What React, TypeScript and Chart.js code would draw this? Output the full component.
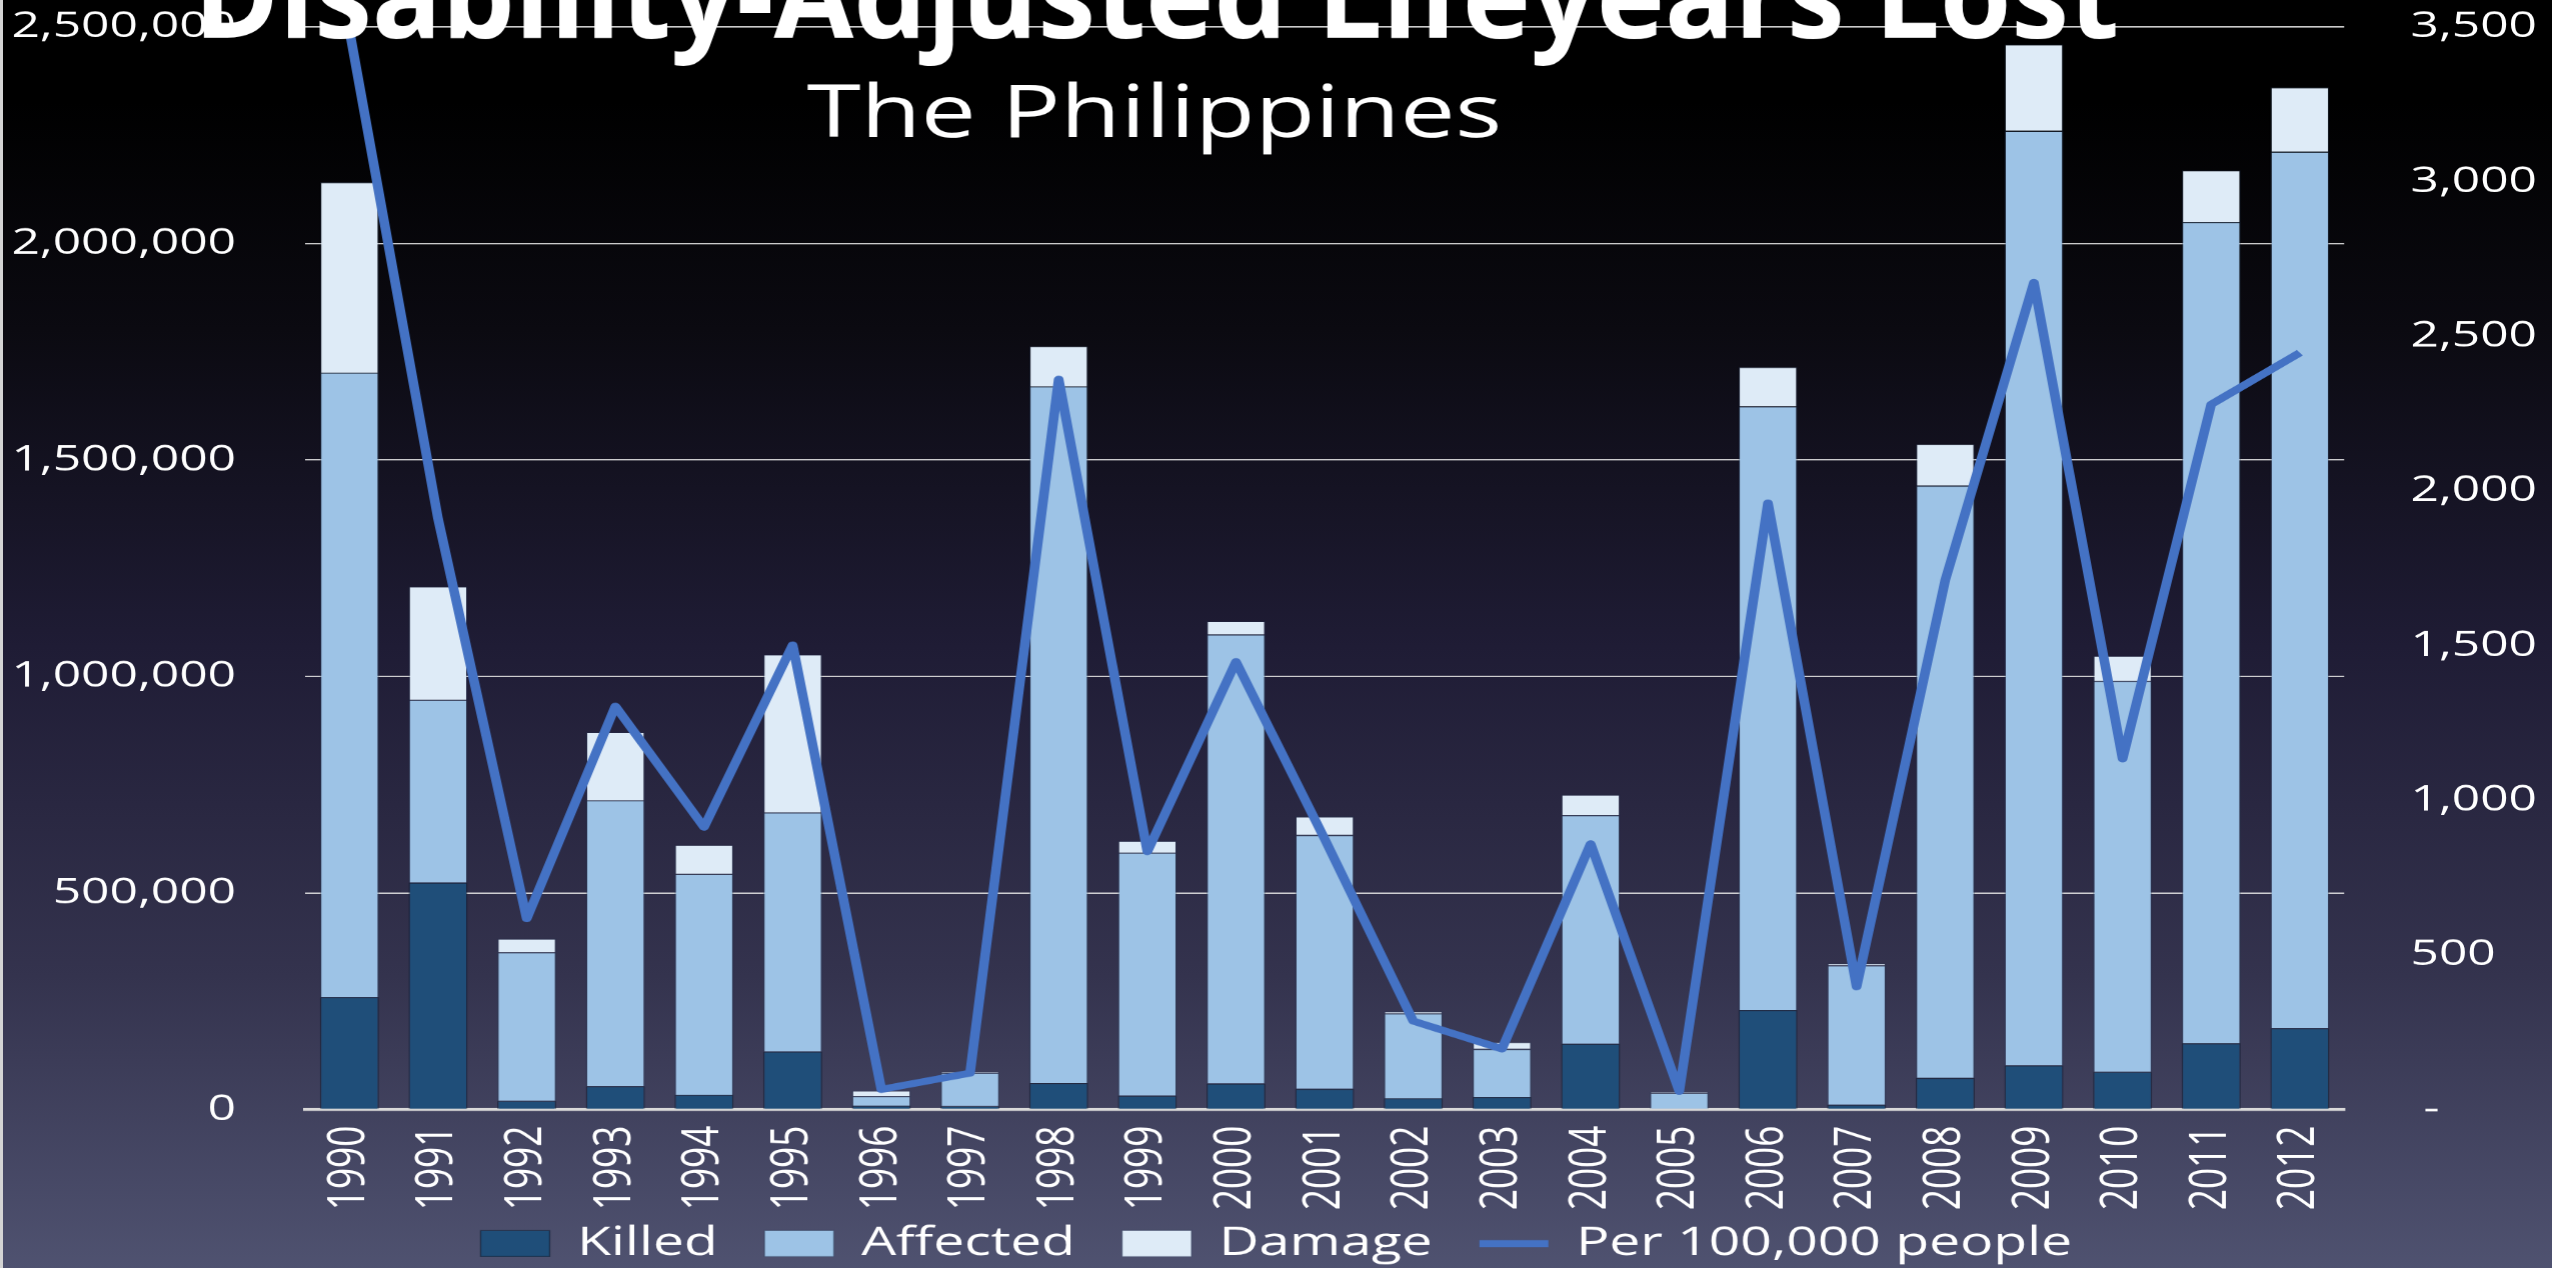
import React, { useEffect, useRef } from 'react';
import { Chart, registerables } from 'chart.js';

Chart.register(...registerables);

// ---- data ----
const years = ['1990', '1991', '1992', '1993', '1994', '1995', '1996', '1997', '1998', '1999', '2000', '2001', '2002', '2003', '2004', '2005', '2006', '2007', '2008', '2009', '2010', '2011', '2012'];
const killed = [260000, 524000, 20000, 54000, 34000, 134000, 9000, 8000, 61000, 32000, 60000, 48000, 26000, 29000, 152000, 2000, 230000, 11000, 73000, 102000, 87000, 153000, 188000];
const affected = [1442000, 422000, 343000, 660000, 510000, 552000, 22000, 77000, 1609000, 561000, 1037000, 586000, 196000, 111000, 528000, 36000, 1394000, 322000, 1368000, 2158000, 903000, 1897000, 2024000];
const damage = [440000, 262000, 32000, 158000, 67000, 365000, 13000, 2000, 93000, 28000, 31000, 43000, 5000, 16000, 47000, 3000, 91000, 5000, 96000, 200000, 58000, 119000, 149000];
const per100k = [3490, 1910, 617, 1304, 913, 1502, 65, 118, 2361, 834, 1448, 875, 286, 196, 859, 59, 1961, 397, 1712, 2674, 1134, 2280, 2447];

const leftMax = 2500000;
const leftStep = 500000;
const rightMax = 3500;
const rightStep = 500;

const TITLE = 'Disability-Adjusted Lifeyears Lost';
const SUBTITLE = 'The Philippines';
const seriesNames = ['Killed', 'Affected', 'Damage', 'Per 100,000 people'];

// ---- layout ----
const PAGE_W = 2552;
const PAGE_H = 1268;
const STRETCH = 1.38;
const CANVAS_W = Math.round(PAGE_W / STRETCH);
const FONT = "'Open Sans', 'DejaVu Sans', sans-serif";

const titlePlugin = {
  id: 'stretchedTitles',
  afterLayout(chart: any) {
    // let rotated category labels extend below the (pinned) axis box without clipping
    if (chart.scales.x) chart.scales.x.bottom = chart.height;
  },
  afterDraw(chart: any) {
    const ctx = chart.ctx as CanvasRenderingContext2D;
    const k = chart.width / PAGE_W;
    const draw = (text: string, font: string, cx: number, baseline: number, targetW: number) => {
      ctx.save();
      ctx.font = font;
      const w = ctx.measureText(text).width;
      ctx.translate(cx * k, baseline);
      ctx.scale((targetW * k) / w, 1);
      ctx.fillStyle = '#ffffff';
      ctx.textAlign = 'center';
      ctx.textBaseline = 'alphabetic';
      ctx.fillText(text, 0, 0);
      ctx.restore();
    };
    draw(TITLE, `bold 118px ${FONT}`, 1156, 38, 1925);
    draw(SUBTITLE, `73px ${FONT}`, 1154, 137, 695);
  },
};

export default function App() {
  const ref = useRef<HTMLCanvasElement | null>(null);

  useEffect(() => {
    document.body.style.margin = '0';
    document.body.style.overflow = 'hidden';
    const canvas = ref.current!;
    canvas.width = CANVAS_W;
    canvas.height = PAGE_H;
    Chart.defaults.font.family = FONT;

    const fmt = (v: any) => Number(v).toLocaleString('en-US');
    const barCommon = {
      type: 'bar',
      yAxisID: 'y',
      order: 1,
      pointStyle: 'rect',
      categoryPercentage: 1,
      barPercentage: 0.666,
      borderWidth: 1,
    };

    const chart = new Chart(canvas, {
      type: 'bar',
      data: {
        labels: years,
        datasets: [
          { ...barCommon, label: seriesNames[0], data: killed, backgroundColor: '#1F4E79', borderColor: 'rgba(15,25,45,0.55)' } as any,
          { ...barCommon, label: seriesNames[1], data: affected, backgroundColor: '#9DC3E6', borderColor: 'rgba(40,60,90,0.35)' } as any,
          { ...barCommon, label: seriesNames[2], data: damage, backgroundColor: '#DEEBF7', borderColor: 'rgba(40,60,90,0.25)' } as any,
          {
            type: 'line',
            label: seriesNames[3],
            data: per100k,
            borderColor: '#4472C4',
            backgroundColor: '#4472C4',
            borderWidth: 7,
            borderJoinStyle: 'round',
            pointRadius: 0,
            pointStyle: 'line',
            tension: 0,
            yAxisID: 'y1',
            order: 0,
          } as any,
        ],
      },
      options: {
        animation: false,
        responsive: false,
        devicePixelRatio: STRETCH,
        layout: { padding: { top: 27, bottom: -5, left: 0, right: 0 } },
        plugins: {
          title: { display: false },
          tooltip: { enabled: false },
          legend: {
            position: 'bottom',
            labels: {
              usePointStyle: true,
              pointStyleWidth: 50,
              boxHeight: 26,
              color: '#ffffff',
              font: { size: 40 },
              padding: 34,
              sort: (a: any, b: any) => a.datasetIndex - b.datasetIndex,
            },
          },
        },
        scales: {
          x: {
            stacked: true,
            grid: { display: false, drawTicks: false },
            border: { display: true, color: '#d9d9d9', width: 3 },
            ticks: {
              color: '#ffffff',
              font: { size: 37 },
              minRotation: 90,
              maxRotation: 90,
              autoSkip: false,
              padding: 16,
            },
            afterFit: (s: any) => { s.height = 80; },
          },
          y: {
            stacked: true,
            position: 'left',
            min: 0,
            max: leftMax,
            ticks: { stepSize: leftStep, color: '#ffffff', font: { size: 36 }, padding: 50, callback: fmt },
            grid: { color: 'rgba(225,225,225,0.9)', lineWidth: 1.5, drawTicks: false },
            border: { display: false },
            afterFit: (s: any) => { s.width = 221; s.paddingTop = 0; s.paddingBottom = 0; },
          },
          y1: {
            position: 'right',
            min: 0,
            max: rightMax,
            ticks: {
              stepSize: rightStep,
              color: '#ffffff',
              font: { size: 36 },
              padding: 48,
              callback: (v: any) => (Number(v) === 0 ? ' -' : fmt(v)),
            },
            grid: { display: false, drawTicks: false },
            border: { display: false },
            afterFit: (s: any) => { s.width = 151; s.paddingTop = 0; s.paddingBottom = 0; },
          },
        },
      } as any,
      plugins: [titlePlugin],
    });

    return () => chart.destroy();
  }, []);

  return (
    <div
      style={{
        position: 'relative',
        width: PAGE_W,
        height: PAGE_H,
        overflow: 'hidden',
        background:
          'linear-gradient(to bottom, #000000 0%, #000000 8%, #0b0a11 26%, #1f1c35 51%, #34334e 77%, #4f5270 100%)',
      }}
    >
      <canvas
        ref={ref}
        width={CANVAS_W}
        height={PAGE_H}
        style={{ width: PAGE_W + 'px', height: PAGE_H + 'px', display: 'block' }}
      />
      <div style={{ position: 'absolute', left: 0, top: 0, width: 3, height: '100%', background: '#d4d4d4' }} />
    </div>
  );
}
